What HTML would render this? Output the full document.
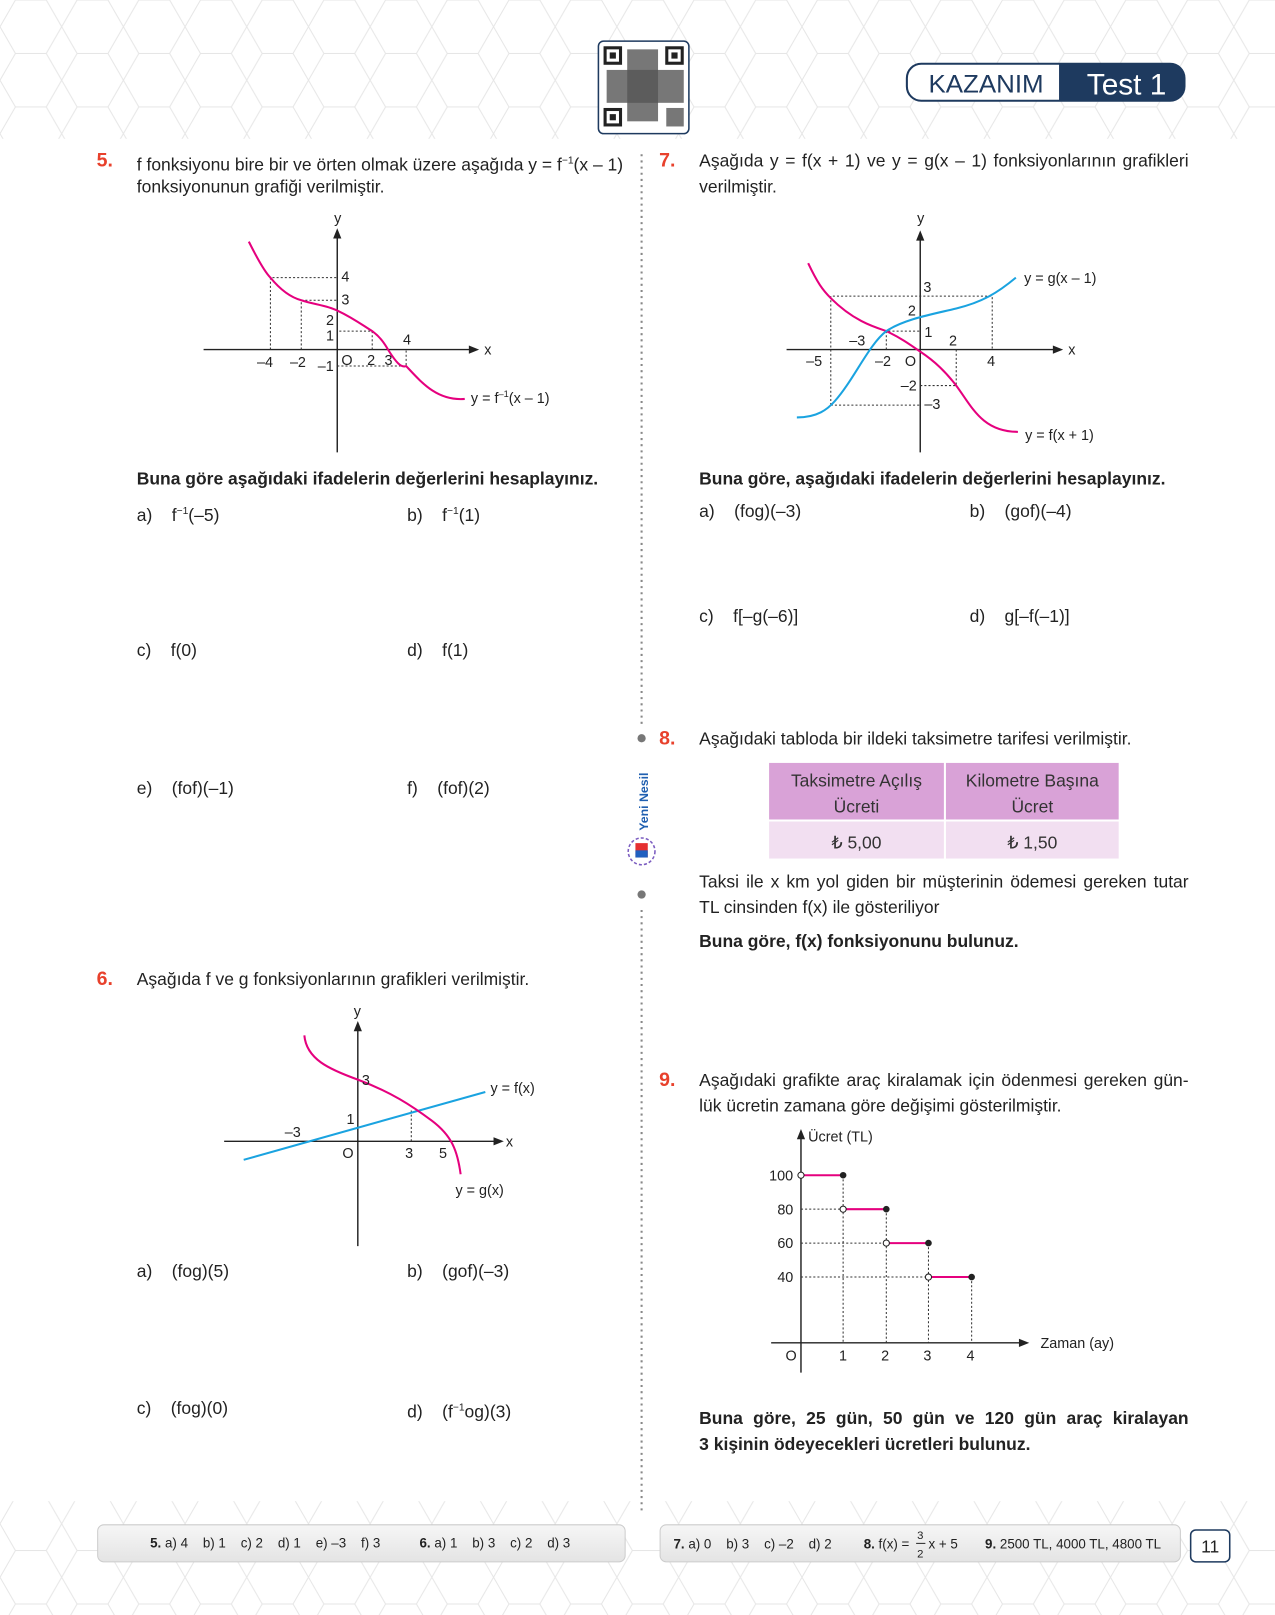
<!DOCTYPE html>
<html><head><meta charset="utf-8"><style>
html,body{margin:0;padding:0;background:#fff;}
#w{position:relative;width:1240px;height:1571px;transform:scale(1.0282);transform-origin:0 0;overflow:hidden;font-family:"Liberation Sans",sans-serif;color:#222;}
.t{position:absolute;font-size:17px;white-space:nowrap;line-height:20px;}
.j{white-space:normal;width:476px;text-align:justify;text-align-last:justify;}
.b{font-weight:bold;}
.n{position:absolute;font-size:19px;font-weight:bold;color:#e8412c;line-height:20px;}
sup{font-size:10px;}
svg{position:absolute;left:0;top:0;}
svg text{white-space:pre;}
</style></head><body><div id="w">
<svg width="1240" height="1571" viewBox="0 0 1240 1571" font-family="Liberation Sans, sans-serif" font-size="14" fill="#222">
<defs><pattern id="hx" width="60" height="52" patternUnits="userSpaceOnUse"><path d="M0 26 L15 0 L45 0 L60 26 L45 52 L15 52 Z" fill="none" stroke="#e6e6e6" stroke-width="1"/></pattern>
<linearGradient id="fg" x1="0" y1="0" x2="0" y2="1"><stop offset="0" stop-color="#f6f6f6"/><stop offset="1" stop-color="#e4e4e4"/></linearGradient></defs>
<rect x="0" y="0" width="1240" height="135" fill="url(#hx)"/>
<rect x="0" y="1460" width="1240" height="111" fill="url(#hx)"/>
<rect x="582" y="40" width="88" height="90" rx="5" fill="#fff" stroke="#1e3a5f" stroke-width="1.5"/>
<g fill="#222"><rect x="587" y="45" width="18" height="18"/><rect x="647" y="45" width="18" height="18"/><rect x="587" y="105" width="18" height="18"/>
<rect x="610" y="48" width="30" height="70" fill="#555" opacity="0.8"/><rect x="590" y="68" width="75" height="32" fill="#555" opacity="0.8"/><rect x="648" y="105" width="17" height="18" fill="#555" opacity="0.8"/></g>
<g fill="#fff"><rect x="590" y="48" width="12" height="12"/><rect x="650" y="48" width="12" height="12"/><rect x="590" y="108" width="12" height="12"/></g>
<g fill="#222"><rect x="593" y="51" width="6" height="6"/><rect x="653" y="51" width="6" height="6"/><rect x="593" y="111" width="6" height="6"/></g>
<rect x="882" y="62" width="270" height="36" rx="14" fill="#fff" stroke="#1e3a5f" stroke-width="2"/>
<path d="M1030 62 H1138 A14 14 0 0 1 1152 76 V84 A14 14 0 0 1 1138 98 H1030 Z" fill="#1e3a5f"/>
<text x="903" y="90" font-size="24" fill="#1e3a5f" textLength="112" lengthAdjust="spacingAndGlyphs">KAZANIM</text>
<text x="1057" y="92" font-size="29" fill="#fff">Test 1</text>
<line x1="624" y1="150" x2="624" y2="705" stroke="#888" stroke-width="2" stroke-dasharray="2,4"/>
<line x1="624" y1="885" x2="624" y2="1470" stroke="#888" stroke-width="2" stroke-dasharray="2,4"/>
<circle cx="624" cy="718" r="4" fill="#777"/><circle cx="624" cy="870" r="4" fill="#777"/>
<text x="0" y="0" font-size="12" font-weight="bold" fill="#1f5fb0" transform="translate(630,808) rotate(-90)">Yeni Nesil</text>
<circle cx="624" cy="828" r="13" fill="none" stroke="#7b5cc0" stroke-dasharray="3,2" stroke-width="1.5"/>
<rect x="618" y="820" width="12" height="14" fill="#e53030"/><rect x="618" y="827" width="12" height="7" fill="#2060c0"/>

<g stroke="#222" stroke-width="1.4"><line x1="328" y1="440" x2="328" y2="226"/><line x1="198" y1="340" x2="462" y2="340"/></g>
<path d="M328 222 l-4 10 h8z M466 340 l-10 -4 v8z" fill="#222"/>
<g stroke="#333" stroke-width="1" stroke-dasharray="2,2" fill="none">
<path d="M263 340 V270 H328"/><path d="M293 340 V292 H328"/><path d="M362 340 V322 H328"/><path d="M328 356 H395 V340"/></g>
<path d="M242 235 C252 255 258 265 263 270 C272 281 282 289 293 292 C305 296 318 297 328 302 C345 310 355 318 362 322 C370 328 374 334 378 341 C385 352 390 358 395 356 C410 372 425 390 452 388" fill="none" stroke="#e5007e" stroke-width="2"/>
<text x="325" y="217">y</text><text x="471" y="345">x</text>
<text x="332" y="274">4</text><text x="332" y="296">3</text><text x="317" y="316">2</text><text x="317" y="331">1</text><text x="392" y="335">4</text>
<text x="250" y="357">–4</text><text x="282" y="357">–2</text><text x="309" y="361">–1</text><text x="332" y="355">O</text><text x="357" y="355">2</text><text x="374" y="355">3</text>
<text x="458" y="392">y = f<tspan font-size="9" dy="-6">–1</tspan><tspan dy="6">(x – 1)</tspan></text>

<g stroke="#222" stroke-width="1.4"><line x1="895" y1="440" x2="895" y2="230"/><line x1="765" y1="340" x2="1030" y2="340"/></g>
<path d="M895 224 l-4 10 h8z M1034 340 l-10 -4 v8z" fill="#222"/>
<g stroke="#333" stroke-width="1" stroke-dasharray="2,2" fill="none">
<path d="M808 394 V288 H965 V340"/><path d="M808 394 H895"/><path d="M862 340 V322 H895"/><path d="M895 375 H930 V340"/></g>
<path d="M786 256 C795 275 800 282 808 290 C830 312 850 318 862 322 C875 328 885 335 895 342 C910 352 920 362 930 375 C945 395 955 420 990 420" fill="none" stroke="#e5007e" stroke-width="2"/>
<path d="M775 406 C795 406 805 398 812 390 C830 370 845 335 862 322 C880 310 910 305 930 300 C955 294 970 285 988 270" fill="none" stroke="#1aa3e0" stroke-width="2"/>
<text x="892" y="217">y</text><text x="1039" y="345">x</text>
<text x="898" y="284">3</text><text x="883" y="307">2</text><text x="899" y="328">1</text><text x="923" y="336">2</text><text x="826" y="336">–3</text>
<text x="784" y="356">–5</text><text x="851" y="356">–2</text><text x="880" y="356">O</text><text x="960" y="356">4</text>
<text x="876" y="380">–2</text><text x="899" y="398">–3</text>
<text x="996" y="275">y = g(x – 1)</text><text x="997" y="428">y = f(x + 1)</text>

<g stroke="#222" stroke-width="1.4"><line x1="348" y1="1212" x2="348" y2="998"/><line x1="218" y1="1110" x2="486" y2="1110"/></g>
<path d="M348 993 l-4 10 h8z M490 1110 l-10 -4 v8z" fill="#222"/>
<g stroke="#333" stroke-width="1" stroke-dasharray="2,2"><line x1="400" y1="1080" x2="400" y2="1110"/></g>
<line x1="237" y1="1128" x2="472" y2="1062" stroke="#1aa3e0" stroke-width="2"/>
<path d="M296 1007 C298 1030 320 1040 348 1050 C380 1062 400 1075 420 1090 C440 1105 445 1120 448 1142" fill="none" stroke="#e5007e" stroke-width="2"/>
<text x="344" y="988">y</text><text x="492" y="1115">x</text>
<text x="352" y="1055">3</text><text x="337" y="1093">1</text><text x="277" y="1106">–3</text><text x="333" y="1126">O</text><text x="394" y="1126">3</text><text x="427" y="1126">5</text>
<text x="477" y="1063">y = f(x)</text><text x="443" y="1162">y = g(x)</text>

<g stroke="#222" stroke-width="1.4"><line x1="779" y1="1335" x2="779" y2="1104"/><line x1="750" y1="1306" x2="996" y2="1306"/></g>
<path d="M779 1098 l-4 10 h8z M1001 1306 l-10 -4 v8z" fill="#222"/>
<g stroke="#333" stroke-width="1" stroke-dasharray="2,2">
<line x1="779" y1="1176" x2="820" y2="1176"/><line x1="779" y1="1209" x2="862" y2="1209"/><line x1="779" y1="1242" x2="903" y2="1242"/>
<line x1="820" y1="1143" x2="820" y2="1306"/><line x1="862" y1="1176" x2="862" y2="1306"/><line x1="903" y1="1209" x2="903" y2="1306"/><line x1="945" y1="1242" x2="945" y2="1306"/></g>
<g stroke="#e5007e" stroke-width="2"><line x1="779" y1="1143" x2="820" y2="1143"/><line x1="820" y1="1176" x2="862" y2="1176"/><line x1="862" y1="1209" x2="903" y2="1209"/><line x1="903" y1="1242" x2="945" y2="1242"/></g>
<g fill="#fff" stroke="#222" stroke-width="1"><circle cx="779" cy="1143" r="3"/><circle cx="820" cy="1176" r="3"/><circle cx="862" cy="1209" r="3"/><circle cx="903" cy="1242" r="3"/></g>
<g fill="#222"><circle cx="820" cy="1143" r="3.2"/><circle cx="862" cy="1176" r="3.2"/><circle cx="903" cy="1209" r="3.2"/><circle cx="945" cy="1242" r="3.2"/></g>
<text x="786" y="1110">Ücret (TL)</text>
<text x="748" y="1148">100</text><text x="756" y="1181">80</text><text x="756" y="1214">60</text><text x="756" y="1247">40</text>
<text x="764" y="1323">O</text><text x="816" y="1323">1</text><text x="857" y="1323">2</text><text x="898" y="1323">3</text><text x="940" y="1323">4</text>
<text x="1012" y="1311">Zaman (ay)</text>

<rect x="748" y="742" width="170" height="55" fill="#d9a2d7"/><rect x="920" y="742" width="168" height="55" fill="#d9a2d7"/>
<rect x="748" y="799" width="170" height="36" fill="#f2dff1"/><rect x="920" y="799" width="168" height="36" fill="#f2dff1"/>
<g font-size="17" text-anchor="middle" fill="#333"><text x="833" y="765">Taksimetre Açılış</text><text x="833" y="790">Ücreti</text>
<text x="1004" y="765">Kilometre Başına</text><text x="1004" y="790">Ücret</text>
<text x="833" y="825">₺ 5,00</text><text x="1004" y="825">₺ 1,50</text></g>

<rect x="95" y="1483" width="513" height="36" rx="6" fill="url(#fg)" stroke="#ccc"/>
<rect x="642" y="1483" width="506" height="36" rx="6" fill="url(#fg)" stroke="#ccc"/>
<rect x="1158" y="1488" width="38" height="31" rx="5" fill="#fff" stroke="#1e3a5f" stroke-width="1.5"/>
<text x="1177" y="1510" text-anchor="middle" font-size="17">11</text>
<g font-size="13">
<text x="146" y="1505"><tspan font-weight="bold">5.</tspan> a) 4    b) 1    c) 2    d) 1    e) –3    f) 3</text>
<text x="408" y="1505"><tspan font-weight="bold">6.</tspan> a) 1    b) 3    c) 2    d) 3</text>
<text x="655" y="1506"><tspan font-weight="bold">7.</tspan> a) 0    b) 3    c) –2    d) 2</text>
<text x="840" y="1506"><tspan font-weight="bold">8.</tspan> f(x) = </text><text x="892" y="1497" font-size="11">3</text><line x1="891" y1="1501" x2="900" y2="1501" stroke="#222"/><text x="892" y="1515" font-size="11">2</text><text x="903" y="1506">x + 5</text>
<text x="958" y="1506"><tspan font-weight="bold">9.</tspan> 2500 TL, 4000 TL, 4800 TL</text>
</g>
</svg>

<div class="n" style="left:94px;top:147px">5.</div>
<div class="t" style="left:133px;top:147px">f fonksiyonu bire bir ve örten olmak üzere aşağıda y = f<sup>−1</sup>(x – 1)</div>
<div class="t" style="left:133px;top:172px">fonksiyonunun grafiği verilmiştir.</div>
<div class="t b" style="left:133px;top:456px">Buna göre aşağıdaki ifadelerin değerlerini hesaplayınız.</div>
<div class="t" style="left:133px;top:488px">a)&nbsp;&nbsp;&nbsp; f<sup>−1</sup>(–5)</div>
<div class="t" style="left:396px;top:488px">b)&nbsp;&nbsp;&nbsp; f<sup>−1</sup>(1)</div>
<div class="t" style="left:133px;top:623px">c)&nbsp;&nbsp;&nbsp; f(0)</div>
<div class="t" style="left:396px;top:623px">d)&nbsp;&nbsp;&nbsp; f(1)</div>
<div class="t" style="left:133px;top:757px">e)&nbsp;&nbsp;&nbsp; (fof)(–1)</div>
<div class="t" style="left:396px;top:757px">f)&nbsp;&nbsp;&nbsp; (fof)(2)</div>

<div class="n" style="left:94px;top:943px">6.</div>
<div class="t" style="left:133px;top:943px">Aşağıda f ve g fonksiyonlarının grafikleri verilmiştir.</div>
<div class="t" style="left:133px;top:1227px">a)&nbsp;&nbsp;&nbsp; (fog)(5)</div>
<div class="t" style="left:396px;top:1227px">b)&nbsp;&nbsp;&nbsp; (gof)(–3)</div>
<div class="t" style="left:133px;top:1360px">c)&nbsp;&nbsp;&nbsp; (fog)(0)</div>
<div class="t" style="left:396px;top:1360px">d)&nbsp;&nbsp;&nbsp; (f<sup>−1</sup>og)(3)</div>

<div class="n" style="left:641px;top:147px">7.</div>
<div class="t j" style="left:680px;top:147px">Aşağıda y = f(x + 1) ve y = g(x – 1) fonksiyonlarının grafikleri</div>
<div class="t" style="left:680px;top:172px">verilmiştir.</div>
<div class="t b" style="left:680px;top:456px">Buna göre, aşağıdaki ifadelerin değerlerini hesaplayınız.</div>
<div class="t" style="left:680px;top:488px">a)&nbsp;&nbsp;&nbsp; (fog)(–3)</div>
<div class="t" style="left:943px;top:488px">b)&nbsp;&nbsp;&nbsp; (gof)(–4)</div>
<div class="t" style="left:680px;top:590px">c)&nbsp;&nbsp;&nbsp; f[–g(–6)]</div>
<div class="t" style="left:943px;top:590px">d)&nbsp;&nbsp;&nbsp; g[–f(–1)]</div>

<div class="n" style="left:641px;top:709px">8.</div>
<div class="t" style="left:680px;top:709px">Aşağıdaki tabloda bir ildeki taksimetre tarifesi verilmiştir.</div>
<div class="t j" style="left:680px;top:848px">Taksi ile x km yol giden bir müşterinin ödemesi gereken tutar</div>
<div class="t" style="left:680px;top:873px">TL cinsinden f(x) ile gösteriliyor</div>
<div class="t b" style="left:680px;top:906px">Buna göre, f(x) fonksiyonunu bulunuz.</div>

<div class="n" style="left:641px;top:1041px">9.</div>
<div class="t j" style="left:680px;top:1041px">Aşağıdaki grafikte araç kiralamak için ödenmesi gereken gün-</div>
<div class="t" style="left:680px;top:1066px">lük ücretin zamana göre değişimi gösterilmiştir.</div>
<div class="t b j" style="left:680px;top:1370px">Buna göre, 25 gün, 50 gün ve 120 gün araç kiralayan</div>
<div class="t b" style="left:680px;top:1395px">3 kişinin ödeyecekleri ücretleri bulunuz.</div>
</div></body></html>
